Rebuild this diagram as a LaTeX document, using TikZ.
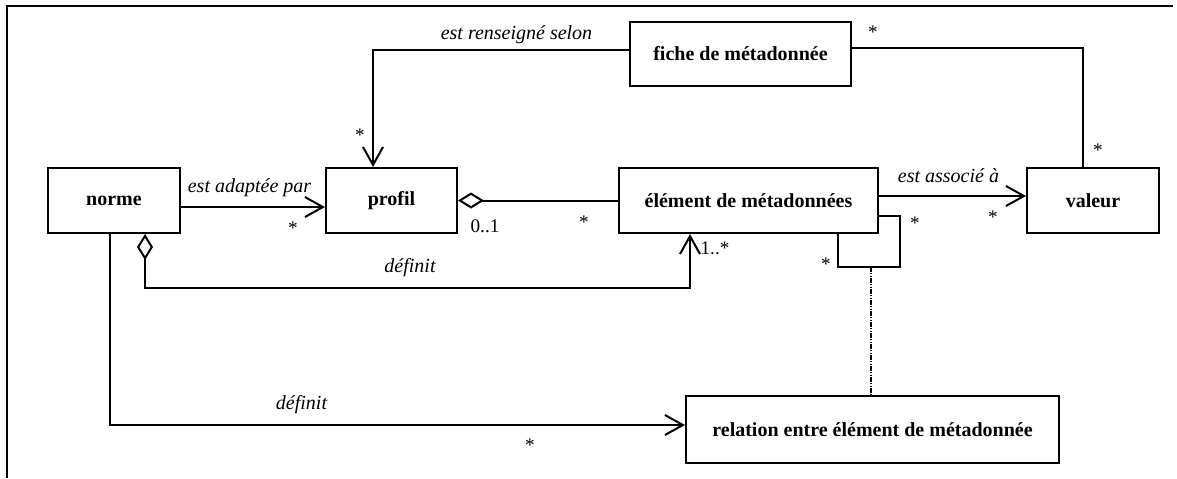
\documentclass[tikz,border=0pt]{standalone}
\usepackage{fontspec}
\setmainfont{Liberation Serif}
\usetikzlibrary{arrows.meta}
\tikzset{
  box/.style={draw, line width=1pt, rectangle, inner sep=0pt, font=\bfseries},
  conn/.style={line width=1pt},
  nav/.style={conn, -{Straight Barb[length=9pt,width=10pt,line width=1pt]}},
  aggr/.style={conn, {Diamond[open,length=13pt,width=8pt,line width=1pt]}-},
  aggrnav/.style={conn, {Diamond[open,length=13pt,width=8pt,line width=1pt]}-{Straight Barb[length=9pt,width=10pt,line width=1pt]}},
  rolelbl/.style={font=\itshape, inner sep=0pt},
  mult/.style={inner sep=0pt},
  dashdotdot/.style={line width=0.8pt, dash pattern=on 2.25pt off 0.75pt on 0.5pt off 0.75pt on 0.5pt off 0.75pt},
  frameline/.style={line width=1.1pt}
}
\begin{document}
\begin{tikzpicture}[x=0.5pt,y=-0.5pt, every node/.append style={font=\fontsize{9.6}{11}\selectfont}]
\useasboundingbox (0,0) rectangle (1177,478);
% frame
\draw[frameline] (7,478) -- (7,6) -- (1173,6);

% classes
\node[box, minimum width=66pt, minimum height=32.5pt] (norme) at (114,200.5) {\bfseries norme};
\node[box, minimum width=65.5pt, minimum height=32.5pt] (profil) at (391.5,200.5) {\bfseries profil};
\node[box, minimum width=110.5pt, minimum height=32pt] (fiche) at (740.5,54) {\bfseries fiche de métadonnée};
\node[box, minimum width=129.5pt, minimum height=32.5pt] (elem) at (748.5,200.5) {\bfseries élément de métadonnées};
\node[box, minimum width=66pt, minimum height=32.5pt] (valeur) at (1093,200.5) {\bfseries valeur};
\node[box, minimum width=186.5pt, minimum height=33.5pt] (rel) at (872.5,429.5) {\bfseries relation entre élément de métadonnée};

% norme -> profil
\draw[nav] ([yshift=-3.25pt]norme.east) -- ([yshift=-3.25pt]profil.west);
\node[rolelbl] (l1) at (249.5,188) {est adaptée par};
\node[mult] (m1) at (293,228) {*};

% fiche -> profil
\draw[nav] ([yshift=2pt]fiche.west) -| ([xshift=-9.25pt]profil.north);
\node[rolelbl] (l2) at (516.5,35) {est renseigné selon};
\node[mult] (m2) at (360,135) {*};

% profil <>-- element
\draw[aggr] (profil.east) -- (elem.west);
\node[mult] (m3) at (485,226) {0..1};
\node[mult] (m4) at (584,222) {*};

% norme <>-- definit --> element
\coordinate (nd) at ([xshift=15.5pt]norme.south);
\coordinate (ed) at ([xshift=-29.25pt]elem.south);
\coordinate (dl) at (0,288);
\draw[aggrnav] (nd) -- (nd |- dl) -| (ed);
\node[rolelbl] (l3) at (410,268) {définit};
\node[mult] (m5) at (715,248) {1..*};

% fiche -- valeur
\draw[conn] ([yshift=3pt]fiche.east) -| ([xshift=-5pt]valeur.north);
\node[mult] (m6) at (873,32) {*};
\node[mult] (m7) at (1098,150) {*};

% element -> valeur
\draw[nav] ([yshift=2.25pt]elem.east) -- ([yshift=2.25pt]valeur.west);
\node[rolelbl] (l4) at (948.5,176) {est associé à};
\node[mult] (m8) at (993,217) {*};

% self loop
\coordinate (la) at ([yshift=-7.75pt]elem.east);
\coordinate (lb) at ([xshift=44.75pt]elem.south);
\coordinate (lp) at (900,267);
\draw[conn] (la) -| (lp) -| (lb);
\node[mult] (m9) at (915,223) {*};
\node[mult] (m10) at (826,264) {*};

% association class link
\coordinate (lc) at (871,267);
\draw[dashdotdot] (lc) -- (lc |- rel.north);

% norme -> relation
\draw[nav] ([xshift=-2pt]norme.south) |- ([yshift=2.25pt]rel.west);
\node[rolelbl] (l5) at (301.5,405) {définit};
\node[mult] (m11) at (530,445) {*};
\end{tikzpicture}
\end{document}
